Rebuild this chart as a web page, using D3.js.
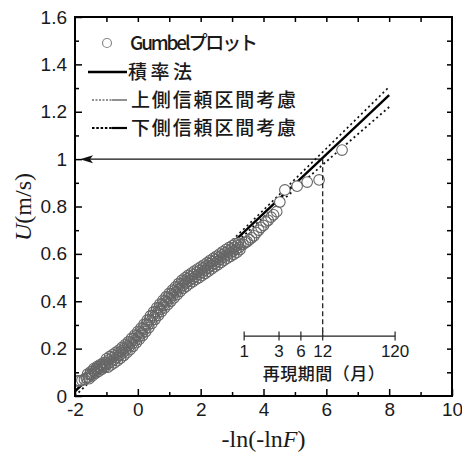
<!DOCTYPE html>
<html><head><meta charset="utf-8">
<script src="https://cdn.jsdelivr.net/npm/d3@7"></script>
<style>body{margin:0;background:#fff}</style>
</head><body><svg id="c" width="462" height="455"></svg>
<script>
// Gumbel plot points (reduced variate -ln(-lnF), wind speed U m/s)
const gumbelX = [-1.93,-1.85,-1.78,-1.70,-1.64,
 -1.600,-1.575,-1.550,-1.525,-1.500,-1.475,-1.450,-1.425,-1.400,-1.375,-1.350,-1.325,-1.300,-1.275,-1.250,-1.225,-1.200,-1.175,-1.150,-1.125,-1.100,-1.075,-1.050,-1.025,
 -1.000,-0.975,-0.950,-0.925,-0.900,-0.875,-0.850,-0.825,-0.800,-0.775,-0.750,-0.725,-0.700,-0.675,-0.650,-0.625,-0.600,-0.575,-0.550,-0.525,-0.500,-0.475,-0.450,-0.425,
 -0.400,-0.375,-0.350,-0.325,-0.300,-0.275,-0.250,-0.225,-0.200,-0.175,-0.150,-0.125,-0.100,-0.075,-0.050,-0.025,
 0.000,0.025,0.050,0.075,0.100,0.125,0.150,0.175,0.200,0.225,0.250,0.275,0.300,0.325,0.350,0.375,0.400,0.425,0.450,0.475,
 0.500,0.525,0.550,0.575,0.600,0.625,0.650,0.675,0.700,0.725,0.750,0.775,0.800,0.825,0.850,0.875,0.900,0.925,0.950,0.975,
 1.000,1.025,1.050,1.075,1.100,1.125,1.150,1.175,1.200,1.225,1.250,1.275,1.300,1.325,1.350,1.375,1.400,1.425,1.450,1.475,
 1.500,1.525,1.550,1.575,1.600,1.625,1.650,1.675,1.700,1.725,1.750,1.775,1.800,1.825,1.850,1.875,1.900,1.925,1.950,1.975,
 2.000,2.025,2.050,2.075,2.100,2.125,2.150,2.175,2.200,2.225,2.250,2.275,2.300,2.325,2.350,2.375,2.400,2.425,2.450,2.475,
 2.500,2.525,2.550,2.575,2.600,2.625,2.650,2.675,2.700,2.725,2.750,2.775,2.800,2.825,2.850,2.875,2.900,2.925,2.950,2.975,
 3.000,3.025,3.050,3.075,3.100,3.125,3.150,3.175,3.200,3.225,3.250,3.275,
 3.35,3.42,3.48,3.55,3.62,3.70,3.77,3.85,3.92,4.00,4.08,4.15,4.24,4.32,4.42,4.52,4.68,5.07,5.39,5.77,6.50];
const gumbelU = [0.064,0.064,0.066,0.070,0.076,
 0.092,0.080,0.073,0.092,0.102,0.091,0.085,0.106,0.116,0.103,0.096,0.115,0.124,0.111,0.104,0.123,0.132,0.119,0.112,0.131,0.140,0.127,0.121,0.140,
 0.157,0.134,0.122,0.152,0.166,0.143,0.131,0.161,0.175,0.152,0.140,0.170,0.184,0.162,0.149,0.180,0.194,0.172,0.160,0.190,0.205,0.183,0.171,0.202,
 0.217,0.195,0.183,0.214,0.229,0.208,0.196,0.228,0.243,0.222,0.210,0.242,0.257,0.236,0.225,0.256,
 0.272,0.251,0.240,0.271,0.287,0.266,0.255,0.287,0.303,0.282,0.272,0.304,0.320,0.300,0.289,0.322,0.338,0.317,0.307,0.339,
 0.355,0.334,0.324,0.356,0.372,0.351,0.340,0.372,0.388,0.367,0.356,0.388,0.404,0.383,0.372,0.403,0.419,0.398,0.386,0.418,
 0.433,0.412,0.400,0.432,0.447,0.426,0.414,0.446,0.461,0.440,0.428,0.460,0.475,0.453,0.442,0.473,0.488,0.466,0.454,0.484,
 0.499,0.477,0.464,0.495,0.509,0.486,0.474,0.504,0.518,0.495,0.483,0.513,0.527,0.504,0.492,0.522,0.536,0.513,0.500,0.530,
 0.544,0.521,0.509,0.539,0.553,0.530,0.518,0.548,0.562,0.540,0.527,0.558,0.572,0.549,0.537,0.567,0.581,0.558,0.546,0.576,
 0.590,0.567,0.555,0.585,0.599,0.577,0.564,0.595,0.609,0.586,0.574,0.604,0.618,0.595,0.582,0.612,0.626,0.603,0.590,0.620,
 0.634,0.611,0.598,0.628,0.642,0.619,0.606,0.636,0.645,0.627,0.618,0.640,
 0.640,0.648,0.652,0.660,0.668,0.676,0.690,0.700,0.712,0.720,0.735,0.742,0.755,0.765,0.778,0.819,0.870,0.886,0.903,0.912,1.038];

// Fitted line (method of moments) and confidence limits
const fitX   = [-2, 0, 2, 4, 6, 8];
const fitU   = [0.020, 0.270, 0.520, 0.770, 1.020, 1.270];
const upperU = [0.040, 0.282, 0.530, 0.785, 1.045, 1.305];
const lowerU = [0.000, 0.258, 0.508, 0.755, 0.990, 1.220];

const xTickValues = [-2, 0, 2, 4, 6, 8, 10];
const xTickLabels = ["-2", "0", "2", "4", "6", "8", "10"];
const yTickValues = [0, 0.2, 0.4, 0.6, 0.8, 1.0, 1.2, 1.4, 1.6];
const yTickLabels = ["0", "0.2", "0.4", "0.6", "0.8", "1", "1.2", "1.4", "1.6"];

const returnPeriods = [1, 3, 6, 12, 120];
const returnPeriodLabels = ["1", "3", "6", "12", "120"];
const returnAxisTitle = "再現期間（月）";
const legendLabels = ["Gumbelプロット", "積率法", "上側信頼区間考慮", "下側信頼区間考慮"];

const designT = 12;        // months
const designU = 1.0;       // m/s
const daysPerMonth = 30;
const insetAxisU = 0.253;  // vertical placement of the return-period scale

const svg = d3.select("#c");
const L = 75, R = 452, T = 17, B = 396;
const x = d3.scaleLinear().domain([-2, 10]).range([L, R]);
const y = d3.scaleLinear().domain([0, 1.6]).range([B, T]);
const tToX = t => -Math.log(-Math.log(1 - 1 / (daysPerMonth * t)));

const ink = "#1a1a1a";
const sans = "'Liberation Sans', Arial, sans-serif";
const serif = "'Liberation Serif', 'Times New Roman', serif";
const jp = "'Noto Sans CJK JP', sans-serif";

svg.append("defs").append("clipPath").attr("id", "pc")
  .append("rect").attr("x", L).attr("y", T).attr("width", R - L).attr("height", B - T);

const line = d3.line().x(d => x(d[0])).y(d => y(d[1]));
const g = svg.append("g").attr("clip-path", "url(#pc)");
g.append("path").attr("d", line(fitX.map((v, i) => [v, upperU[i]])))
  .attr("fill", "none").attr("stroke", "#111").attr("stroke-width", 1.6).attr("stroke-dasharray", "2,3");
g.append("path").attr("d", line(fitX.map((v, i) => [v, lowerU[i]])))
  .attr("fill", "none").attr("stroke", "#111").attr("stroke-width", 1.8).attr("stroke-dasharray", "2,3");
g.append("path").attr("d", line(fitX.map((v, i) => [v, fitU[i]])))
  .attr("fill", "none").attr("stroke", "#000").attr("stroke-width", 2.4);

// points: white discs first, then the gray rings on top
const pts = gumbelX.map((v, i) => [v, gumbelU[i]]);
g.selectAll("circle.bg").data(pts).join("circle")
  .attr("class", "bg").attr("cx", d => x(d[0])).attr("cy", d => y(d[1])).attr("r", 5.3)
  .attr("fill", "#fff");
g.selectAll("circle.pt").data(pts).join("circle")
  .attr("class", "pt").attr("cx", d => x(d[0])).attr("cy", d => y(d[1])).attr("r", 5.3)
  .attr("fill", "none").attr("stroke", "#666").attr("stroke-width", 1.1);

// design arrow & dashed vertical
const xd = x(tToX(designT)), yd = y(designU), xa = x(-2) + 5;
svg.append("line").attr("x1", xd).attr("y1", yd).attr("x2", xa + 4).attr("y2", yd)
  .attr("stroke", "#111").attr("stroke-width", 1.2);
svg.append("path").attr("d", `M${xa},${yd} L${xa + 13},${yd - 4} L${xa + 10},${yd} L${xa + 13},${yd + 4} Z`)
  .attr("fill", "#111");
svg.append("line").attr("x1", xd).attr("y1", yd).attr("x2", xd).attr("y2", y(insetAxisU))
  .attr("stroke", "#111").attr("stroke-width", 1.2).attr("stroke-dasharray", "5,3");

// return period scale
const yi = y(insetAxisU);
const ins = svg.append("g");
ins.append("line").attr("x1", x(tToX(returnPeriods[0]))).attr("x2", x(tToX(returnPeriods[returnPeriods.length - 1])))
  .attr("y1", yi).attr("y2", yi).attr("stroke", "#222").attr("stroke-width", 1.2);
ins.selectAll("line.rt").data(returnPeriods).join("line").attr("class", "rt")
  .attr("x1", d => x(tToX(d))).attr("x2", d => x(tToX(d))).attr("y1", yi - 4.5).attr("y2", yi + 4.5)
  .attr("stroke", "#222").attr("stroke-width", 1.2);
ins.selectAll("text.rl").data(returnPeriods).join("text").attr("class", "rl")
  .attr("x", d => x(tToX(d))).attr("y", yi + 21).attr("text-anchor", "middle")
  .attr("font-family", sans).attr("font-size", 17).attr("fill", ink)
  .text((d, i) => returnPeriodLabels[i]);
ins.append("text").attr("x", x(tToX(designT)) + 1).attr("y", yi + 44).attr("text-anchor", "middle")
  .attr("font-family", jp).attr("font-size", 17).attr("font-weight", 500).attr("fill", ink)
  .attr("textLength", 122).attr("lengthAdjust", "spacing").text(returnAxisTitle);

// axes
function styleAxis(sel) { sel.select(".domain").remove(); sel.selectAll("line").attr("stroke", "#000").attr("stroke-width", 1.5); }
const minorX = d3.range(-1, 10, 2), minorY = d3.range(0.1, 1.6, 0.2);
svg.append("g").attr("transform", `translate(0,${B})`)
  .call(d3.axisBottom(x).tickValues(xTickValues).tickFormat((d, i) => xTickLabels[i]).tickSizeInner(-7).tickSizeOuter(0).tickPadding(7))
  .call(styleAxis).call(s => s.selectAll("text").attr("font-family", sans).attr("font-size", 19).attr("fill", ink));
svg.append("g").attr("transform", `translate(0,${B})`)
  .call(d3.axisBottom(x).tickValues(minorX).tickFormat("").tickSizeInner(-4).tickSizeOuter(0)).call(styleAxis);
svg.append("g").attr("transform", `translate(0,${T})`)
  .call(d3.axisTop(x).tickValues(d3.range(-1, 10, 1)).tickFormat("").tickSizeInner(-5).tickSizeOuter(0)).call(styleAxis);
svg.append("g").attr("transform", `translate(${L},0)`)
  .call(d3.axisLeft(y).tickValues(yTickValues).tickFormat((d, i) => yTickLabels[i]).tickSizeInner(-7).tickSizeOuter(0).tickPadding(8))
  .call(styleAxis).call(s => s.selectAll("text").attr("font-family", sans).attr("font-size", 19).attr("fill", ink));
svg.append("g").attr("transform", `translate(${L},0)`)
  .call(d3.axisLeft(y).tickValues(minorY).tickFormat("").tickSizeInner(-4).tickSizeOuter(0)).call(styleAxis);
svg.append("g").attr("transform", `translate(${R},0)`)
  .call(d3.axisRight(y).tickValues(d3.range(0.1, 1.6, 0.1)).tickFormat("").tickSizeInner(-5).tickSizeOuter(0)).call(styleAxis);

svg.append("rect").attr("x", L).attr("y", T).attr("width", R - L).attr("height", B - T)
  .attr("fill", "none").attr("stroke", "#000").attr("stroke-width", 2);

// axis titles
const yt = svg.append("text").attr("transform", `translate(31,207) rotate(-90)`)
  .attr("text-anchor", "middle").attr("font-family", serif).attr("font-size", 24).attr("fill", ink);
yt.append("tspan").attr("font-style", "italic").text("U");
yt.append("tspan").text("(m/s)");
const xt = svg.append("text").attr("x", (L + R) / 2).attr("y", 447)
  .attr("text-anchor", "middle").attr("font-family", serif).attr("font-size", 24).attr("fill", ink);
xt.append("tspan").text("-ln(-ln");
xt.append("tspan").attr("font-style", "italic").text("F");
xt.append("tspan").text(")");

// legend
const lg = svg.append("g");
const rowY = [43, 72, 100, 128];
const textX = [130, 128, 131, 131];
const textW = [128, 64, 165, 165];
lg.append("circle").attr("cx", 107).attr("cy", rowY[0]).attr("r", 4.5).attr("fill", "#fff").attr("stroke", "#888").attr("stroke-width", 1.2);
lg.append("line").attr("x1", 88).attr("x2", 127).attr("y1", rowY[1]).attr("y2", rowY[1]).attr("stroke", "#000").attr("stroke-width", 2.4);
lg.append("line").attr("x1", 92).attr("x2", 112).attr("y1", rowY[2]).attr("y2", rowY[2]).attr("stroke", "#222").attr("stroke-width", 1).attr("stroke-dasharray", "2,1.5");
lg.append("line").attr("x1", 112).attr("x2", 127).attr("y1", rowY[2]).attr("y2", rowY[2]).attr("stroke", "#222").attr("stroke-width", 1);
lg.append("line").attr("x1", 92).attr("x2", 112).attr("y1", rowY[3]).attr("y2", rowY[3]).attr("stroke", "#000").attr("stroke-width", 2.2).attr("stroke-dasharray", "2.5,1.8");
lg.append("line").attr("x1", 112).attr("x2", 127).attr("y1", rowY[3]).attr("y2", rowY[3]).attr("stroke", "#000").attr("stroke-width", 2.2);
lg.selectAll("text").data(legendLabels).join("text")
  .attr("x", (d, i) => textX[i]).attr("y", (d, i) => rowY[i] + 7)
  .attr("font-family", jp).attr("font-size", 19).attr("font-weight", 500).attr("fill", ink)
  .attr("textLength", (d, i) => textW[i]).attr("lengthAdjust", "spacing")
  .text(d => d);
</script></body></html>
